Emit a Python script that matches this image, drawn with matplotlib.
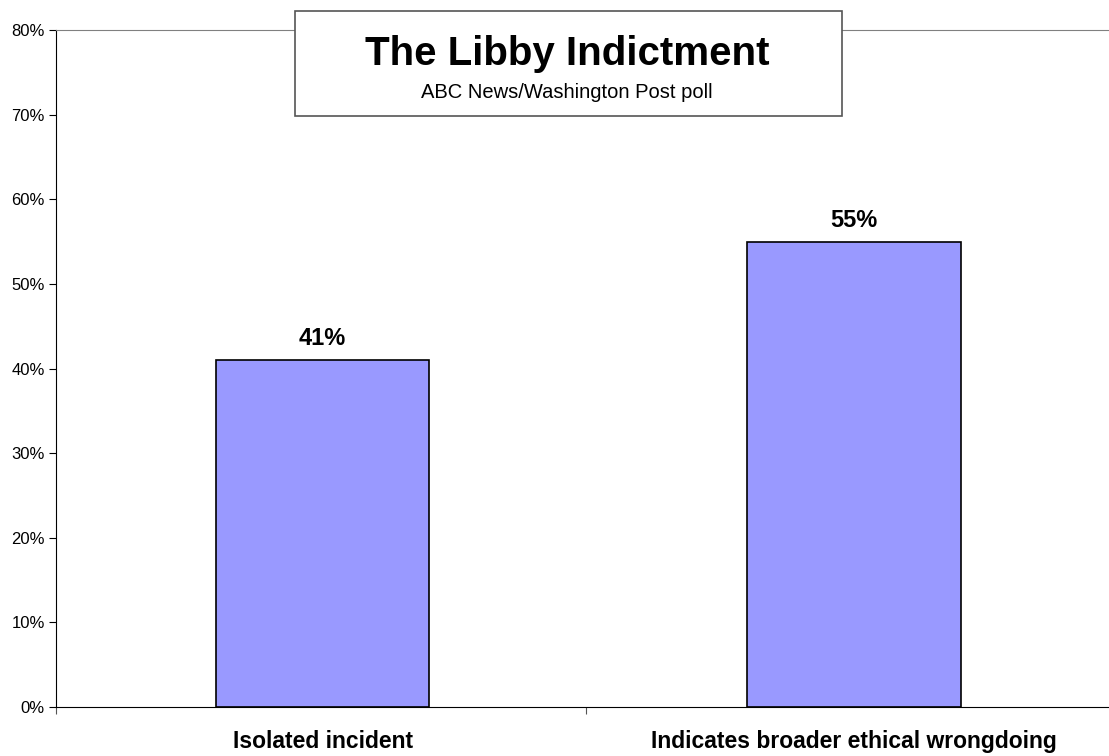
import matplotlib
matplotlib.use("Agg")
import matplotlib.pyplot as plt
from matplotlib.patches import Rectangle

plt.rcParams['font.family'] = ['Liberation Sans', 'DejaVu Sans']

categories = ["Isolated incident", "Indicates broader ethical wrongdoing"]
values = [41, 55]
yticks = [0, 10, 20, 30, 40, 50, 60, 70, 80]
title = "The Libby Indictment"
subtitle = "ABC News/Washington Post poll"

fig = plt.figure(figsize=(11.09, 7.56), dpi=100)
ax = fig.add_axes([56/1109, 1-707/756, 1058/1109, (707-30)/756])

x = list(range(len(categories)))
ax.bar(x, values, width=0.402, color="#9999ff", edgecolor="black", linewidth=1.2, zorder=2)
for xi, v in zip(x, values):
    ax.annotate(f"{v}%", (xi, v), xytext=(0, 10.5), textcoords="offset points",
                ha="center", va="baseline", fontsize=17, fontweight="bold")

x0, x1 = -0.502, 1.49
ax.set_xlim(x0, x1)
ax.set_ylim(0, 80)
ax.set_yticks(yticks)
ax.set_yticklabels([f"{t}%" for t in yticks], fontsize=12)
ax.set_xticks([x0, 0.495, x1])
ax.set_xticklabels(["", "", ""])
ax.tick_params(axis='x', length=5, direction='out', color='#555555')
ax.tick_params(axis='y', length=5, direction='out', pad=3)
for xi, c in zip(x, categories):
    ax.annotate(c, (xi, 0), xycoords=('data', 'axes fraction'), xytext=(0, -29.5),
                textcoords="offset points", ha="center", va="baseline",
                fontsize=16.5, fontweight="bold")

ax.spines['right'].set_visible(False)
ax.spines['top'].set_color('#808080')
ax.spines['left'].set_color('black')
ax.spines['bottom'].set_color('black')

# title box
box = Rectangle((295/1109, 1-116/756), (842-295)/1109, (116-11)/756, transform=fig.transFigure,
                facecolor="white", edgecolor="#555555", linewidth=1.2, zorder=5)
fig.patches.append(box)
fig.text(567/1109, 1-65/756, title, ha="center", va="baseline", fontsize=29, fontweight="bold", zorder=6)
fig.text(567/1109, 1-98/756, subtitle, ha="center", va="baseline", fontsize=14.5, zorder=6)

fig.savefig("out.png", dpi=100)
